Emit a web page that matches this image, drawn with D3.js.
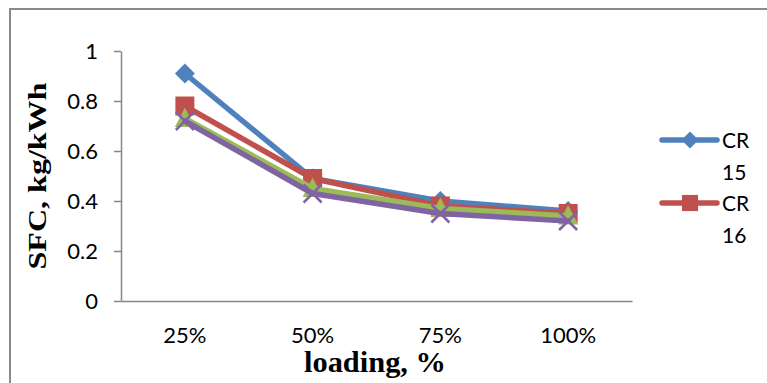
<!DOCTYPE html>
<html>
<head>
<meta charset="utf-8">
<script src="https://cdn.jsdelivr.net/npm/d3@7"></script>
<style>
  body { margin: 0; background: #fff; }
  svg { display: block; }
</style>
</head>
<body>
<svg id="chart" width="767" height="383"></svg>
<script>
// Specific fuel consumption vs. engine loading for four compression ratios
const categories = ["25%", "50%", "75%", "100%"];
const seriesNames = ["CR 15", "CR 16", "CR 17", "CR 18"];
const cr15 = [0.91, 0.49, 0.40, 0.36];
const cr16 = [0.78, 0.49, 0.38, 0.35];
const cr17 = [0.73, 0.45, 0.37, 0.34];
const cr18 = [0.72, 0.43, 0.35, 0.32];
const yTicks = [0, 0.2, 0.4, 0.6, 0.8, 1];
const yTickLabels = ["0", "0.2", "0.4", "0.6", "0.8", "1"];

const seriesValues = [cr15, cr16, cr17, cr18];
const colors = ["#4F81BD", "#C0504D", "#9BBB59", "#8064A2"];
const markers = ["diamond", "square", "triangle", "cross"];

const svg = d3.select("#chart");
const axisColor = "#868686";
const tickFont = "Lato, 'Open Sans', sans-serif";
const titleFont = "'Liberation Serif', 'Times New Roman', serif";

// Outer chart frame
svg.append("rect")
  .attr("x", 10).attr("y", 9)
  .attr("width", 800).attr("height", 400)
  .attr("fill", "none")
  .attr("stroke", "#8a8a8a")
  .attr("stroke-width", 2);

const plot = { left: 121, right: 632, top: 51, bottom: 301 };

const x = d3.scaleBand()
  .domain(categories)
  .range([plot.left, plot.right])
  .paddingInner(0).paddingOuter(0);
const cx = c => x(c) + x.bandwidth() / 2;

const y = d3.scaleLinear()
  .domain([0, 1])
  .range([plot.bottom, plot.top]);

// Y axis
const yAxis = svg.append("g")
  .attr("transform", `translate(${plot.left},0)`)
  .call(d3.axisLeft(y)
    .tickValues(yTicks)
    .tickFormat((d, i) => yTickLabels[i])
    .tickSize(7)
    .tickSizeOuter(0)
    .tickPadding(16));
yAxis.select(".domain").attr("stroke", axisColor).attr("stroke-width", 1.5);
yAxis.selectAll(".tick line").attr("stroke", axisColor).attr("stroke-width", 1.5);
yAxis.selectAll(".tick text")
  .attr("fill", "#000")
  .style("font-family", tickFont)
  .style("font-size", "22px");

// X axis
const xAxis = svg.append("g")
  .attr("transform", `translate(0,${plot.bottom})`)
  .call(d3.axisBottom(x).tickSize(0).tickSizeOuter(0));
xAxis.select(".domain").attr("stroke", axisColor).attr("stroke-width", 1.5);
xAxis.selectAll(".tick text")
  .attr("y", 42).attr("dy", "0")
  .attr("fill", "#000")
  .style("font-family", tickFont)
  .style("font-size", "22px");

// Axis titles
svg.append("text")
  .attr("x", 375).attr("y", 372)
  .attr("text-anchor", "middle")
  .attr("textLength", 142)
  .attr("lengthAdjust", "spacingAndGlyphs")
  .style("font-family", titleFont)
  .style("font-weight", "bold")
  .style("font-size", "30px")
  .text("loading, %");

svg.append("text")
  .attr("transform", "translate(46,176) rotate(-90)")
  .attr("text-anchor", "middle")
  .attr("textLength", 187)
  .attr("lengthAdjust", "spacingAndGlyphs")
  .style("font-family", titleFont)
  .style("font-weight", "bold")
  .style("font-size", "26px")
  .text("SFC, kg/kWh");

// Marker shapes
function markerPath(type) {
  switch (type) {
    case "diamond": return "M0,-10L10,0L0,10L-10,0Z";
    case "square": return "M-9.5,-9.5H9.5V9.5H-9.5Z";
    case "triangle": return "M0,-11L10,8.5H-10Z";
    case "cross": return "M-9,-9L9,9M9,-9L-9,9";
  }
}

const lineGen = d3.line()
  .x((d, i) => cx(categories[i]))
  .y(d => y(d));

seriesValues.forEach((vals, s) => {
  const g = svg.append("g").attr("class", "series");
  g.append("path")
    .datum(vals)
    .attr("d", lineGen)
    .attr("fill", "none")
    .attr("stroke", colors[s])
    .attr("stroke-width", 5.5)
    .attr("stroke-linejoin", "round")
    .attr("stroke-linecap", "round");
  g.selectAll("path.marker")
    .data(vals)
    .join("path")
    .attr("class", "marker")
    .attr("transform", (d, i) => `translate(${cx(categories[i])},${y(d)})`)
    .attr("d", markerPath(markers[s]))
    .attr("fill", markers[s] === "cross" ? "none" : colors[s])
    .attr("stroke", colors[s])
    .attr("stroke-width", markers[s] === "cross" ? 2.5 : 0);
});

// Legend (only the first two entries fit in the frame)
const legendRows = [140, 203];
[0, 1].forEach(s => {
  const ly = legendRows[s];
  const lg = svg.append("g");
  lg.append("line")
    .attr("x1", 662).attr("x2", 717)
    .attr("y1", ly).attr("y2", ly)
    .attr("stroke", colors[s])
    .attr("stroke-width", 5.5)
    .attr("stroke-linecap", "round");
  lg.append("path")
    .attr("transform", `translate(690,${ly}) scale(0.85)`)
    .attr("d", markerPath(markers[s]))
    .attr("fill", colors[s]);
  const parts = seriesNames[s].split(" ");
  const t = lg.append("text")
    .style("font-family", tickFont)
    .style("font-size", "21px")
    .attr("fill", "#000");
  t.append("tspan").attr("x", 722).attr("y", ly + 8).text(parts[0]);
  t.append("tspan").attr("x", 722).attr("y", ly + 40).text(parts[1]);
});
</script>
</body>
</html>
